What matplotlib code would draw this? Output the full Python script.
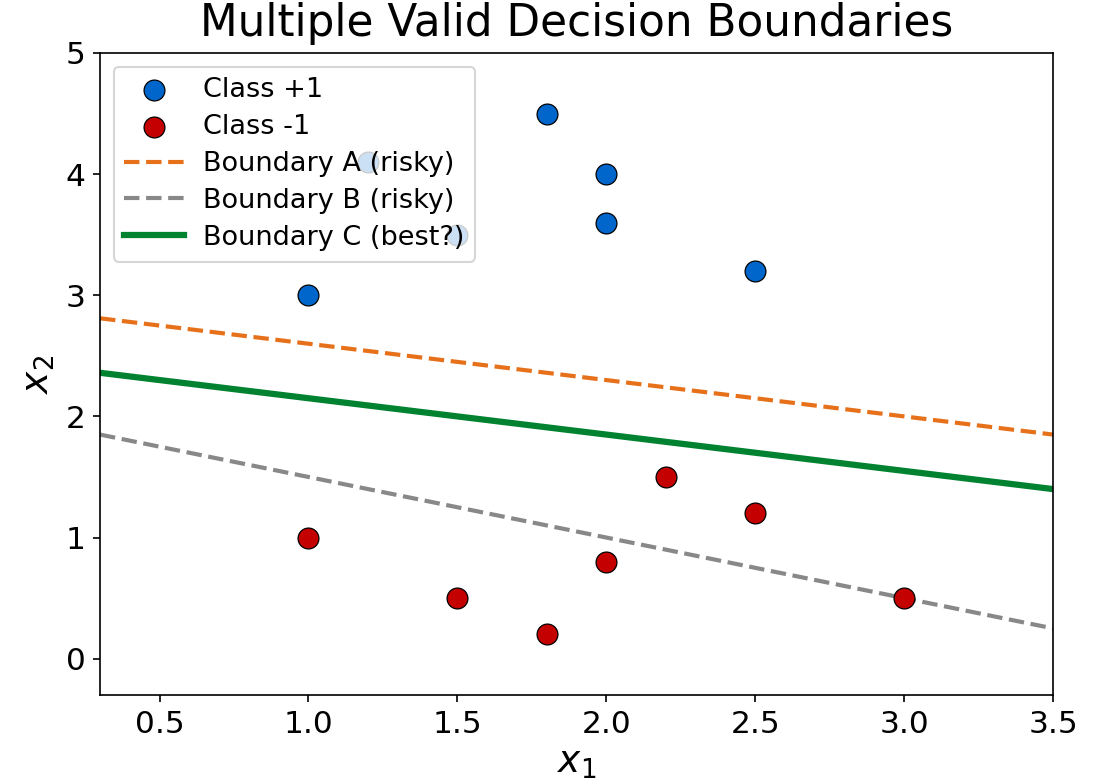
import numpy as np
import matplotlib
matplotlib.use("Agg")
import matplotlib.pyplot as plt

# sample points for the two classes
pos_x1 = [1.0, 1.2, 1.5, 1.8, 2.0, 2.0, 2.5]
pos_x2 = [3.0, 4.1, 3.5, 4.5, 4.0, 3.6, 3.2]
neg_x1 = [1.0, 1.5, 1.8, 2.0, 2.2, 2.5, 3.0]
neg_x2 = [1.0, 0.5, 0.2, 0.8, 1.5, 1.2, 0.5]

# candidate boundaries: x2 = intercept + slope * x1
boundary_names = ["Boundary A (risky)", "Boundary B (risky)", "Boundary C (best?)"]
boundary_intercepts = [2.9, 2.0, 2.45]
boundary_slopes = [-0.3, -0.5, -0.3]
boundary_colors = ["#e6711a", "#888888", "#008230"]
boundary_styles = ["--", "--", "-"]
boundary_widths = [2, 2, 3]

fig = plt.figure(figsize=(1105 / 150, 784 / 150), dpi=150)
fig.subplots_adjust(left=0.0905, right=0.953, top=0.9324, bottom=0.1135)
ax = fig.add_subplot(111)

ax.scatter(pos_x1, pos_x2, s=100, c="#0066cc", edgecolors="black",
           linewidths=0.6, label="Class +1", zorder=3)
ax.scatter(neg_x1, neg_x2, s=100, c="#c40000", edgecolors="black",
           linewidths=0.6, label="Class -1", zorder=3)

xs = np.linspace(0.3, 3.5, 50)
for name, b, m, col, ls, lw in zip(boundary_names, boundary_intercepts, boundary_slopes,
                                   boundary_colors, boundary_styles, boundary_widths):
    ax.plot(xs, b + m * xs, color=col, linestyle=ls, linewidth=lw, label=name)

ax.set_xlim(0.3, 3.5)
ax.set_ylim(-0.3, 5)
ax.set_xticks([0.5, 1.0, 1.5, 2.0, 2.5, 3.0, 3.5])
ax.set_yticks([0, 1, 2, 3, 4, 5])
ax.tick_params(labelsize=15)
ax.set_xlabel("$x_1$", fontsize=18, labelpad=3)
ax.set_ylabel("$x_2$", fontsize=18)
ax.set_title("Multiple Valid Decision Boundaries", fontsize=21, pad=8)
ax.legend(loc="upper left", fontsize=13, labelspacing=0.4,
          handlelength=2.2, handletextpad=0.7)

fig.savefig("out.png", dpi=150)
